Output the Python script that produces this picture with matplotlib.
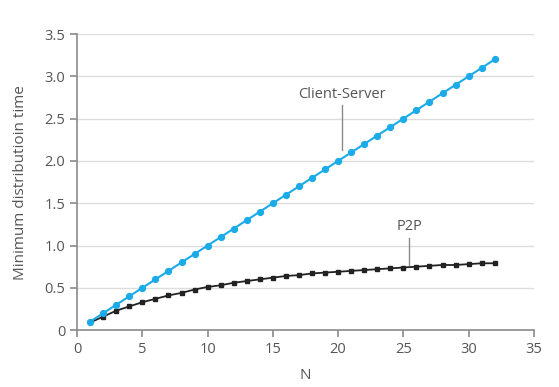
import numpy as np
import matplotlib.pyplot as plt

plt.rcParams['font.family'] = ['Open Sans', 'DejaVu Sans']

N = list(range(1, 33))
client_server = [0.1, 0.2, 0.3, 0.4, 0.5, 0.6, 0.7, 0.8, 0.9, 1.0,
                 1.1, 1.2, 1.3, 1.4, 1.5, 1.6, 1.7, 1.8, 1.9, 2.0,
                 2.1, 2.2, 2.3, 2.4, 2.5, 2.6, 2.7, 2.8, 2.9, 3.0,
                 3.1, 3.2]
p2p = [0.09, 0.16, 0.23, 0.28, 0.33, 0.37, 0.41, 0.44, 0.48, 0.51,
       0.53, 0.56, 0.58, 0.60, 0.62, 0.64, 0.65, 0.67, 0.68, 0.69,
       0.70, 0.71, 0.72, 0.73, 0.74, 0.75, 0.76, 0.77, 0.77, 0.78,
       0.79, 0.79]

txt = '#555555'
axis_col = '#8a8a8a'

fig = plt.figure(figsize=(5.59, 3.87), dpi=100)
ax = fig.add_axes([0.138, 0.147, 0.817, 0.765])

for yv in np.arange(0.5, 3.51, 0.5):
    ax.axhline(yv, color='#dddddd', lw=1, zorder=0)

ax.plot(N, p2p, '-s', color='#222222', lw=1.3, ms=3.3, zorder=3)
ax.plot(N, client_server, '-o', color='#1aabe8', lw=1.5, ms=4.2, zorder=4)

# labels with leader lines
ax.plot([20.27, 20.27], [2.13, 2.66], color=axis_col, lw=1)
ax.text(20.27, 2.79, 'Client-Server', ha='center', va='center',
        fontsize=10.5, color=txt)
ax.plot([25.44, 25.44], [0.77, 1.09], color=axis_col, lw=1)
ax.text(25.44, 1.22, 'P2P', ha='center', va='center',
        fontsize=10.5, color=txt)

ax.set_xlim(0, 35)
ax.set_ylim(0, 3.5)
ax.set_xticks(range(0, 36, 5))
ax.set_yticks(np.arange(0, 3.51, 0.5))
ax.set_yticklabels(['0', '0.5', '1.0', '1.5', '2.0', '2.5', '3.0', '3.5'])

for s in ['top', 'right']:
    ax.spines[s].set_visible(False)
for s in ['left', 'bottom']:
    ax.spines[s].set_color(axis_col)
    ax.spines[s].set_linewidth(1.2)
ax.tick_params(colors=axis_col, labelcolor=txt, labelsize=10.5,
               length=5, width=1.2)

ax.set_xlabel('N', color=txt, fontsize=11, labelpad=8)
ax.set_ylabel('Minimum distributioin time', color=txt, fontsize=11, labelpad=12)

fig.savefig('out.png', dpi=100)
